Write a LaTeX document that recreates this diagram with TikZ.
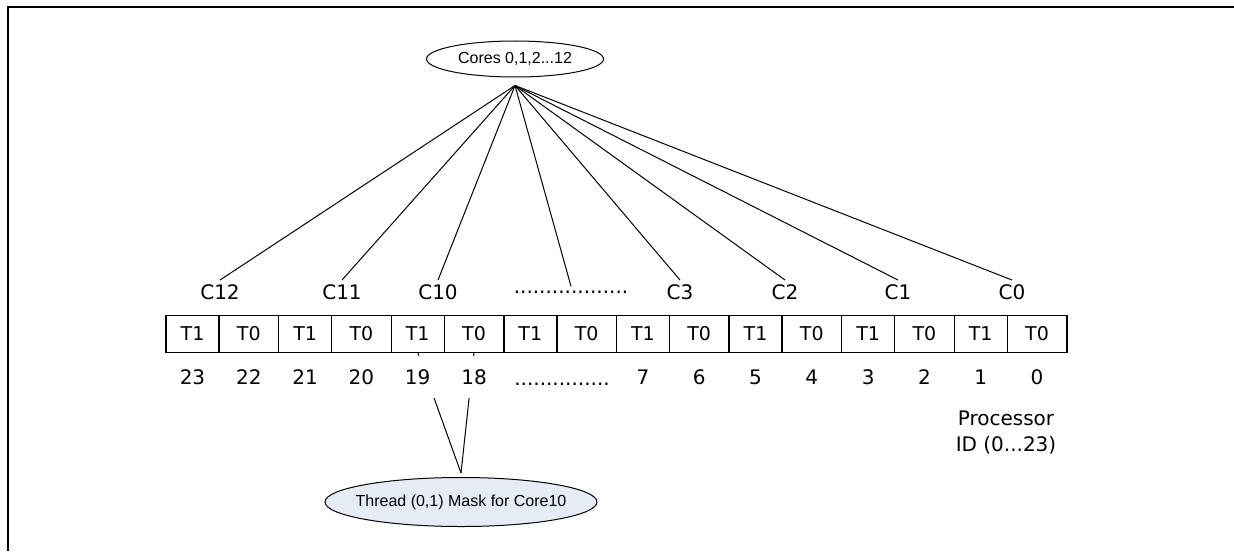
\documentclass[tikz,border=0pt]{standalone}
\usepackage{fontspec}
\setmainfont{DejaVu Sans}
\newfontfamily\arialfont{Liberation Sans}
\usetikzlibrary{shapes,positioning,calc}
\definecolor{maskfill}{RGB}{230,236,246}

\begin{document}
\begin{tikzpicture}[x=0.5pt, y=-0.5pt,
    cell/.style={draw, line width=0.7pt, outer sep=0pt, inner sep=0pt, minimum height=18.5pt, font=\fontsize{9.5}{11}\selectfont},
    tone/.style={cell, minimum width=26.5pt},
    tzero/.style={cell, minimum width=29.8pt},
    corelbl/.style={inner xsep=1pt, inner ysep=2pt, font=\fontsize{10}{12}\selectfont},
    pidlbl/.style={fill=white, inner sep=0pt, minimum height=21pt, minimum width=17pt, text height=7.5pt, text depth=0pt, font=\fontsize{10}{12}\selectfont},
    spoke/.style={line width=0.5pt},
    bubble/.style={ellipse, draw, line width=0.5pt, inner sep=0pt, font=\arialfont\fontsize{8}{10}\selectfont}]
    \useasboundingbox (0,0) rectangle (1234,551);
    % frame (only top and left side show)
    \draw[line width=1pt] (8,551) -- (8,7) -- (1234,7);

    % cores bubble on top
    \node[bubble, minimum width=88.5pt, minimum height=18pt] (cores) at (515,59) {Cores 0,1,2...12};
    \coordinate (hub) at ($(cores.south)+(0,8)$);

    % core labels
    \node[corelbl] (c12) at (220,292) {C12};
    \node[corelbl] (c11) at (342,292) {C11};
    \node[corelbl] (c10) at (438,292) {C10};
    \node[corelbl] (cdots) at (571,292) {..................};
    \node[corelbl] (c3) at (680,292) {C3};
    \node[corelbl] (c2) at (785,292) {C2};
    \node[corelbl] (c1) at (898,292) {C1};
    \node[corelbl] (c0) at (1012,292) {C0};
    \foreach \c in {c12,c11,c10,cdots,c3,c2,c1,c0}
        \draw[spoke] (hub) -- (\c.north);

    % thread cells T1/T0
    \node[tone, anchor=west] (t1) at (166,334) {T1};
    \foreach \i [remember=\i as \p (initially 1)] in {2,...,16} {
        \ifodd\i\relax \def\kind{tone}\def\txt{T1}\else \def\kind{tzero}\def\txt{T0}\fi
        \node[\kind, right=0pt of t\p] (t\i) {\txt};
    }

    % mask bubble for core 10
    \node[bubble, fill=maskfill, inner xsep=-12pt, minimum width=136pt, minimum height=24.5pt] (mask) at (461,502) {Thread (0,1) Mask for Core10};
    \draw[spoke] (t5.south) -- ($(mask.north)+(0,-4)$);
    \draw[spoke] (t6.south) -- ($(mask.north)+(0,-4)$);

    % processor ids (white boxes hide the mask lines)
    \foreach \i/\pid in {1/23,2/22,3/21,4/20,5/19,6/18,9/7,10/6,11/5,12/4,13/3,14/2,15/1,16/0}
        \node[pidlbl] (n\i) at ($(t\i.center)+(0,43)$) {\pid};
    \node[pidlbl] (ndots) at (562,378) {...............};
    \node[align=center, inner sep=0pt, font=\fontsize{10}{13}\selectfont] (pid) at (1006,433) {Processor\\ID (0...23)};
\end{tikzpicture}
\end{document}
